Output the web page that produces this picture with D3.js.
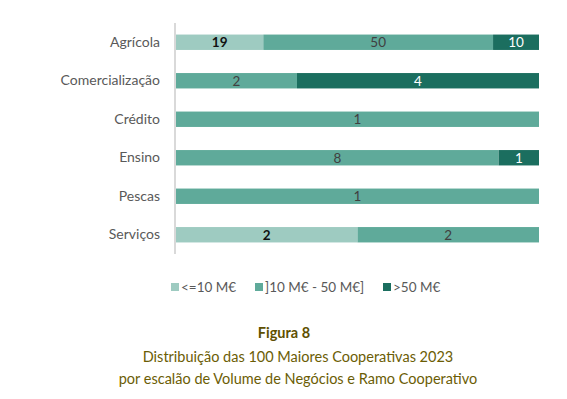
<!DOCTYPE html>
<html>
<head>
<meta charset="utf-8">
<script src="https://cdn.jsdelivr.net/npm/d3@7"></script>
<style>
  body { margin: 0; background: #fff; }
  svg { display: block; font-family: Lato, "Open Sans", sans-serif; }
</style>
</head>
<body>
<svg id="chart"></svg>
<script>
const categories = ["Agrícola", "Comercialização", "Crédito", "Ensino", "Pescas", "Serviços"];
const seriesNames = ["<=10 M€", "]10 M€ - 50 M€]", ">50 M€"];
const small = [19, 0, 0, 0, 0, 2];
const medium = [50, 2, 1, 8, 1, 2];
const large = [10, 4, 0, 1, 0, 0];
const titleLines = ["Figura 8", "Distribuição das 100 Maiores Cooperativas 2023", "por escalão de Volume de Negócios e Ramo Cooperativo"];

const colors = ["#9ecbc1", "#5faa9a", "#1b6e5f"];
const labelColors = ["#111", "#404040", "#fff"];
const labelWeights = ["bold", "normal", "normal"];

const w = 567, h = 399;
const svg = d3.select("#chart").attr("width", w).attr("height", h);

const rows = categories.map((c, i) => ({ cat: c, vals: [small[i], medium[i], large[i]] }));
const stack = d3.stack().keys([0, 1, 2]).offset(d3.stackOffsetExpand)
  .value((d, k) => d.vals[k]);
const layers = stack(rows);

const x = d3.scaleLinear().domain([0, 1]).range([176, 539]);
const y = d3.scaleBand().domain(categories).range([23, 254]).paddingInner(0.6).paddingOuter(0.3);

// bars
layers.forEach((layer, k) => {
  const g = svg.append("g");
  g.selectAll("rect")
    .data(layer.filter(d => d.data.vals[k] > 0))
    .enter().append("rect")
    .attr("x", d => x(d[0]))
    .attr("y", d => y(d.data.cat))
    .attr("width", d => x(d[1]) - x(d[0]))
    .attr("height", y.bandwidth())
    .attr("fill", colors[k]);
  g.selectAll("text")
    .data(layer.filter(d => d.data.vals[k] > 0))
    .enter().append("text")
    .attr("x", d => (x(d[0]) + x(d[1])) / 2)
    .attr("y", d => y(d.data.cat) + y.bandwidth() / 2)
    .attr("dy", "0.36em")
    .attr("text-anchor", "middle")
    .attr("font-size", 13.5)
    .attr("font-weight", labelWeights[k])
    .attr("fill", labelColors[k])
    .text(d => d.data.vals[k]);
});

// category axis
const yAxis = svg.append("g")
  .attr("transform", "translate(175,0)")
  .call(d3.axisLeft(y).tickSize(0).tickPadding(15));
yAxis.select(".domain").attr("stroke", "#d9d9d9").attr("stroke-width", 2).attr("d", "M0,23V254");
yAxis.selectAll("text").attr("font-size", 14).attr("fill", "#595959").attr("font-family", "Lato, 'Open Sans', sans-serif");

// legend
const legendX = [171, 255, 383];
const legend = svg.append("g");
seriesNames.forEach((s, k) => {
  legend.append("rect").attr("x", legendX[k]).attr("y", 283).attr("width", 8).attr("height", 8).attr("fill", colors[k]);
  legend.append("text").attr("x", legendX[k] + 10).attr("y", 287).attr("dy", "0.35em")
    .attr("font-size", 13.5).attr("fill", "#595959").text(s);
});

// title
const tg = svg.append("g").attr("text-anchor", "middle");
tg.append("text").attr("x", 284).attr("y", 338).attr("font-size", 14.5).attr("font-weight", "bold")
  .attr("fill", "#5e5000").text(titleLines[0]);
tg.append("text").attr("x", 298).attr("y", 362).attr("font-size", 14.5)
  .attr("fill", "#6b5d05").text(titleLines[1]);
tg.append("text").attr("x", 298).attr("y", 384).attr("font-size", 14.5)
  .attr("fill", "#6b5d05").text(titleLines[2]);
</script>
</body>
</html>
